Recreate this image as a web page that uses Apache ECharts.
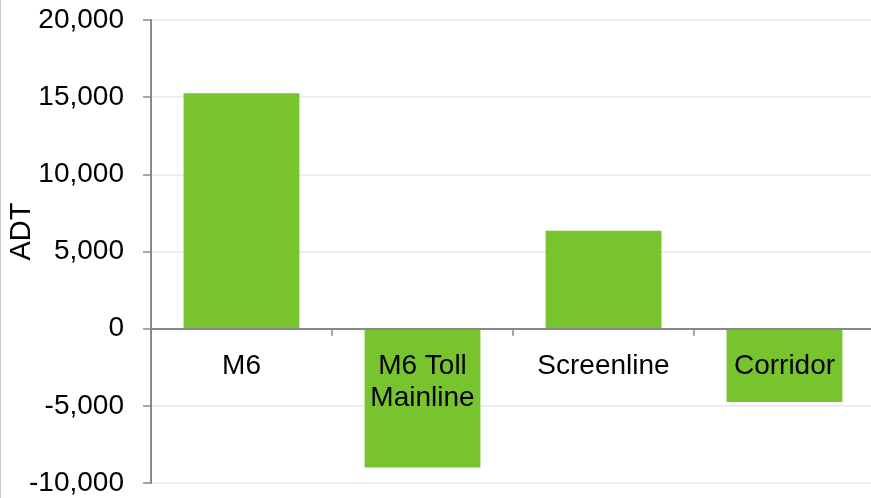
<!DOCTYPE html>
<html>
<head>
<meta charset="utf-8">
<script src="https://cdn.jsdelivr.net/npm/echarts@6/dist/echarts.min.js"></script>
<style>
html,body{margin:0;padding:0;background:#fff;}
#chart{width:871px;height:498px;}
</style>
</head>
<body>
<div id="chart"></div>
<script>
const categories = ["M6", "M6 Toll\nMainline", "Screenline", "Corridor"];
const adtValues = [15250, -9000, 6350, -4750];
const yTicks = { min: -10000, max: 20000, interval: 5000 };

const chart = echarts.init(document.getElementById('chart'), null, { renderer: 'canvas' });
const font = 'Liberation Sans, Arial, sans-serif';
const gridTop = 20, gridBottom = 15, H = 498;
const plotH = H - gridTop - gridBottom;
// distance from bottom of plot to the zero line, derived from the axis range
const zeroOffset = plotH * (0 - yTicks.min) / (yTicks.max - yTicks.min);
chart.setOption({
  animation: false,
  backgroundColor: '#ffffff',
  grid: { left: 151, right: -4, top: gridTop, bottom: gridBottom, containLabel: false, outerBoundsMode: 'none' },
  xAxis: {
    type: 'category',
    data: categories,
    position: 'bottom',
    offset: -zeroOffset,
    z: 5,
    axisLine: { show: true, onZero: false, lineStyle: { color: '#888888', width: 2 } },
    axisTick: { show: true, length: 7, alignWithLabel: false, lineStyle: { color: '#888888', width: 1.5 } },
    axisLabel: { color: '#000', fontFamily: font, fontSize: 28, margin: 22, lineHeight: 32, interval: 0 },
    splitLine: { show: false }
  },
  yAxis: {
    type: 'value',
    min: yTicks.min, max: yTicks.max, interval: yTicks.interval,
    name: 'ADT',
    nameLocation: 'middle',
    nameGap: 115,
    nameMoveOverlap: false,
    nameTextStyle: { color: '#000', fontFamily: font, fontSize: 29, padding: [0, 0, 0, 40] },
    axisLine: { show: true, lineStyle: { color: '#888888', width: 2 } },
    axisTick: { show: true, length: 8, lineStyle: { color: '#888888', width: 1.5 } },
    axisLabel: {
      color: '#000', fontFamily: font, fontSize: 28, margin: 27,
      formatter: v => v.toLocaleString('en-US')
    },
    splitLine: { show: true, lineStyle: { color: '#eeeeee', width: 2 } }
  },
  series: [{
    type: 'bar',
    data: adtValues,
    barWidth: '64%',
    itemStyle: { color: '#77C42E' }
  }],
  graphic: [{
    type: 'line',
    shape: { x1: 0.5, y1: 0, x2: 0.5, y2: 498 },
    style: { stroke: '#c8c8c8', lineWidth: 1 }
  }]
});
</script>
</body>
</html>
